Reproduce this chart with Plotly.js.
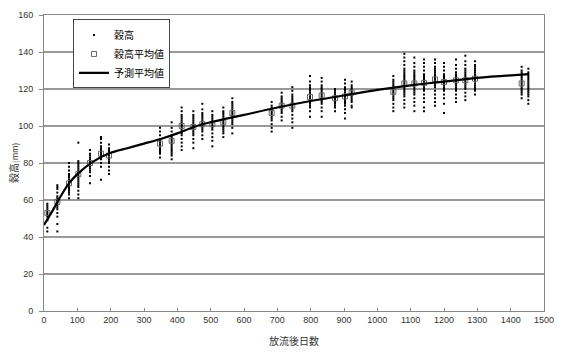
<!DOCTYPE html>
<html>
<head>
<meta charset="utf-8">
<script src="https://cdn.plot.ly/plotly-3.0.1.min.js"></script>
<style>html,body{margin:0;padding:0;background:#fff;}#chart{width:566px;height:352px;}</style>
</head>
<body>
<div id="chart"></div>
<script>
// sampling days (放流後日数) of each measured cluster
const days = [10,40,75,103,138,171,195,348,383,413,448,475,505,538,565,683,713,745,798,833,873,903,923,1048,1081,1111,1140,1173,1200,1236,1264,1293,1433,1453];
// individual 穀高 values (mm) for each cluster
const heights = [
  [43,45,49,51,52,53,54,55,56,57,58],
  [43,47,51,53,55,56,57,58,59,60,61,62,64,66,67,68],
  [61,63,64,65,66,67,68,69,70,71,72,73,74,76,78,80],
  [61,63,65,67,68,69,70,71,72,73,74,75,76,77,78,79,80,81,91],
  [69,73,75,76,77,78,79,80,81,82,83,84,85,87],
  [71,78,80,82,83,84,85,86,87,88,89,91,93,94],
  [74,76,78,80,81,82,83,84,85,86,87,88,90],
  [83,85,86,87,88,89,90,91,92,93,95,97,99],
  [82,84,85,86,87,88,89,90,91,92,93,94,95,97,99,102],
  [87,89,91,93,95,96,97,98,99,100,101,102,103,104,105,106,108,110],
  [88,91,93,95,96,97,98,99,100,101,102,103,104,105,106,108],
  [93,95,97,98,99,100,101,102,103,104,105,106,107,109,112],
  [89,92,94,96,98,99,100,101,102,103,104,105,106,108],
  [94,96,97,98,99,100,101,102,103,104,105,106,107,108,110],
  [96,99,101,102,103,104,105,106,107,108,109,110,111,112,113,115],
  [97,99,101,103,104,105,106,107,108,109,110,111,113],
  [103,105,107,108,109,110,111,112,113,114,115,116,118],
  [99,102,104,106,108,109,110,111,112,113,114,115,116,117,119,121],
  [105,108,110,111,112,113,114,115,116,117,118,119,120,121,122,124,127],
  [105,108,110,112,113,114,115,116,117,118,119,120,121,122,124,126],
  [108,110,111,112,113,114,115,116,117,118,119,120],
  [104,107,109,111,112,113,114,115,116,117,118,119,120,121,123,125],
  [110,111,113,114,115,116,117,118,119,120,121,122,124],
  [108,110,112,114,115,116,117,118,119,120,121,122,123,124,125,127],
  [110,112,114,116,117,118,119,120,121,122,123,124,125,126,127,128,129,130,131,133,135,137,139],
  [108,111,113,115,117,118,119,120,121,122,123,124,125,126,127,128,129,130,132,134,137],
  [108,110,113,115,117,119,120,121,122,123,124,125,126,127,128,130,132,134,136],
  [111,113,115,117,119,121,122,123,124,125,126,127,128,129,130,131,132,134,136],
  [107,112,115,117,119,120,121,122,123,124,125,126,127,128,130,132,134],
  [113,115,117,119,120,121,122,123,124,125,126,127,128,129,131,133,136],
  [114,116,118,120,121,122,123,124,125,126,127,128,129,130,131,133,135,138],
  [117,119,120,121,122,123,124,125,126,127,128,129,130,131,132,133,135],
  [115,117,118,119,120,121,122,123,124,125,126,127,128,129,130,132],
  [112,114,116,117,118,119,120,121,122,123,124,125,126,127,128,129,131]
];
// 穀高平均値
const meanDays = [10,40,75,103,138,171,195,348,383,413,448,475,505,538,565,683,713,745,798,833,873,903,923,1048,1081,1111,1140,1173,1200,1236,1264,1293,1433];
const meanValues = [53,59,69,74,80,85,84,90.5,92,100,99.5,101,101,102,107,107,111,111,115.7,116.5,115,116,118,118.5,123,123,123.3,125.2,123.8,124.7,124.7,125.6,123];
// 予測平均値 curve
const lineDays = [0,25,50,75,100,150,200,250,300,350,400,450,500,600,700,800,900,1000,1100,1200,1300,1455];
const lineValues = [46.5,54,62,69,74,81,85.5,88,90.5,93,96,99.5,102,106,110,113.5,116.5,119.5,122,124,126,128];

const xTickVals = [0,100,200,300,400,500,600,700,800,900,1000,1100,1200,1300,1400,1500];
const yTickVals = [0,20,40,60,80,100,120,140,160];

const dotX = [], dotY = [];
days.forEach((d, i) => heights[i].forEach(h => { dotX.push(d); dotY.push(h); }));

const jp = '"Noto Sans CJK JP", "Liberation Sans", sans-serif';
const num = '"Liberation Sans", Arial, sans-serif';

const traces = [
  {x: dotX, y: dotY, type: 'scatter', mode: 'markers', name: '穀高',
   marker: {symbol: 'square', size: 2, color: '#000', line: {width: 0}}},
  {x: meanDays, y: meanValues, type: 'scatter', mode: 'markers', name: '穀高平均値',
   marker: {symbol: 'square-open', size: 5, color: '#666', line: {width: 1, color: '#666'}}},
  {x: lineDays, y: lineValues, type: 'scatter', mode: 'lines', name: '予測平均値',
   line: {color: '#000', width: 2.2, shape: 'spline'}}
];

const layout = {
  width: 566, height: 352,
  margin: {l: 44, r: 22, t: 15, b: 41},
  paper_bgcolor: '#fff', plot_bgcolor: '#fff',
  showlegend: true,
  legend: {x: 0.058, y: 0.985, xanchor: 'left', yanchor: 'top',
           bgcolor: '#fff', bordercolor: '#444', borderwidth: 1,
           font: {family: jp, size: 10, color: '#000'},
           tracegroupgap: 0, itemwidth: 30},
  annotations: [
    {text: '穀高<span style="font-size:8px">(mm)</span>', xref: 'paper', yref: 'paper', x: -0.062, y: 0.5,
     xanchor: 'center', yanchor: 'middle', textangle: -90, showarrow: false,
     font: {family: jp, size: 10, color: '#333'}}
  ],
  xaxis: {range: [0, 1500], tickvals: xTickVals, ticktext: xTickVals.map(String),
          showgrid: false, zeroline: false, showline: true, mirror: true,
          linecolor: '#888', linewidth: 1, ticks: 'inside', ticklen: 3, tickcolor: '#888',
          tickfont: {family: num, size: 9, color: '#333'},
          title: {text: '放流後日数', font: {family: jp, size: 10, color: '#333'}, standoff: 14}},
  yaxis: {range: [0, 160], tickvals: yTickVals, ticktext: yTickVals.map(String),
          showgrid: true, gridcolor: '#999', gridwidth: 1.2,
          zeroline: false, showline: true, mirror: true,
          linecolor: '#888', linewidth: 1, ticks: 'outside', ticklen: 4, tickcolor: '#888',
          ticklabelstandoff: 4,
          tickfont: {family: num, size: 9, color: '#333'}}
};

Plotly.newPlot('chart', traces, layout, {displayModeBar: false, staticPlot: true});
</script>
</body>
</html>
